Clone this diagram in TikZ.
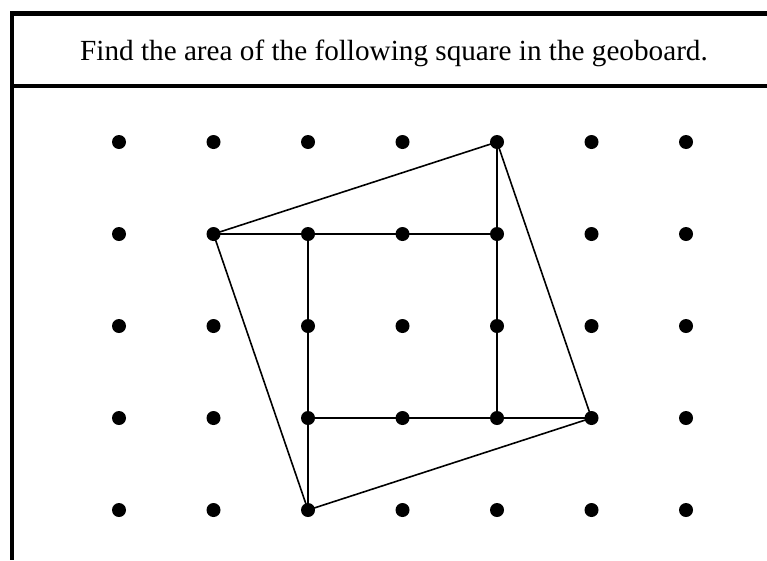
\documentclass[tikz,border=0pt]{standalone}
\usepackage{fontspec}
\setmainfont{Liberation Serif}
\begin{document}
\begin{tikzpicture}[x=1pt,y=-1pt,
  frameline/.style={line width=4.5pt},
  peg/.style={circle,fill=black,inner sep=0pt,minimum size=14pt},
  band/.style={line width=1.6pt,line join=round}]
\useasboundingbox (0,0) rectangle (767,560);
% frame (cropped on right and bottom)
\draw[frameline] (767,13.5) -- (12,13.5) -- (12,560);
\draw[frameline] (12,86) -- (767,86);
\node[font=\fontsize{29.2}{34}\selectfont, anchor=base] (title) at (394,60) {Find the area of the following square in the geoboard.};
% pegs
\foreach \c in {0,...,6}{
  \foreach \r in {0,...,4}{
    \coordinate (p\c\r) at ({119+94.5*\c},{142+92*\r});
  }
}
% bands
\draw[band] (p40) -- (p53) -- (p24) -- (p11) -- cycle;
\draw[band] (p11) -- (p41);
\draw[band] (p23) -- (p53);
\draw[band] (p21) -- (p24);
\draw[band] (p40) -- (p43);
\foreach \c in {0,...,6}{
  \foreach \r in {0,...,4}{
    \node[peg] (n\c\r) at (p\c\r) {};
  }
}
\end{tikzpicture}
\end{document}
